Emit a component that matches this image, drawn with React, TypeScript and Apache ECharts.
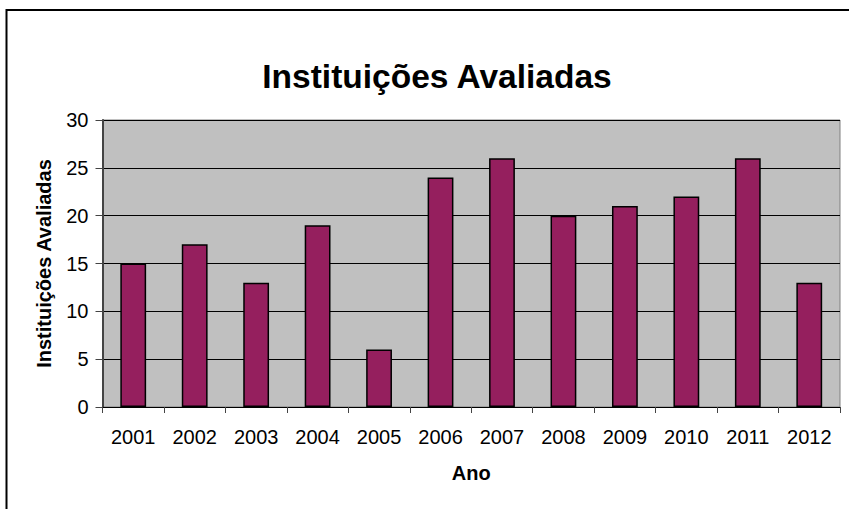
import React, { useEffect, useRef } from "react";
import * as echarts from "echarts";

const title = "Instituições Avaliadas";
const yAxisName = "Instituições Avaliadas";
const xAxisName = "Ano";
const years = ["2001", "2002", "2003", "2004", "2005", "2006", "2007", "2008", "2009", "2010", "2011", "2012"];
const values = [15, 17, 13, 19, 6, 24, 26, 20, 21, 22, 26, 13];

export default function App() {
  const ref = useRef<HTMLDivElement>(null);
  useEffect(() => {
    if (!ref.current) return;
    const chart = echarts.init(ref.current, undefined, { renderer: "svg" });
    const font = "Liberation Sans";
    chart.setOption({
      animation: false,
      backgroundColor: "#ffffff",
      textStyle: { fontFamily: font },
      graphic: [
        {
          type: "rect",
          shape: { x: 6.5, y: 10, width: 900, height: 600 },
          style: { fill: "none", stroke: "#000000", lineWidth: 2 },
          silent: true,
          z: 100,
        },
      ],
      title: {
        text: title,
        left: 432,
        top: 54,
        textAlign: "center",
        textStyle: { fontFamily: font, fontSize: 33.5, fontWeight: "bold", color: "#000" },
      },
      grid: {
        left: 102.5,
        top: 120,
        right: 9,
        bottom: 102,
        show: true,
        backgroundColor: "#c0c0c0",
        borderColor: "#808080",
        borderWidth: 1,
      },
      xAxis: {
        type: "category",
        data: years,
        boundaryGap: true,
        name: xAxisName,
        nameLocation: "middle",
        nameGap: 56,
        nameTextStyle: { fontFamily: font, fontSize: 20, fontWeight: "bold", color: "#000" },
        axisLine: { show: true, lineStyle: { color: "#000", width: 1 } },
        axisTick: { show: true, length: 6, lineStyle: { color: "#444" } },
        axisLabel: { fontFamily: font, fontSize: 20, color: "#000", margin: 20 },
        splitLine: { show: false },
      },
      yAxis: {
        type: "value",
        min: 0,
        max: 30,
        interval: 5,
        name: yAxisName,
        nameLocation: "middle",
        nameGap: 49,
        nameTextStyle: { fontFamily: font, fontSize: 20, fontWeight: "bold", color: "#000" },
        axisLine: { show: true, lineStyle: { color: "#444", width: 2 } },
        axisTick: { show: true, length: 7, lineStyle: { color: "#444" } },
        axisLabel: { fontFamily: font, fontSize: 20, color: "#000", margin: 14 },
        splitLine: { show: true, lineStyle: { color: "#000", width: 1 } },
      },
      series: [
        {
          type: "bar",
          data: values,
          barWidth: "42%",
          itemStyle: { color: "#951f5e", borderColor: "#000", borderWidth: 1.5 },
        },
      ],
    });
    return () => chart.dispose();
  }, []);
  return (
    <div
      ref={ref}
      style={{ position: "absolute", left: 0, top: 0, width: 849, height: 509 }}
    />
  );
}
